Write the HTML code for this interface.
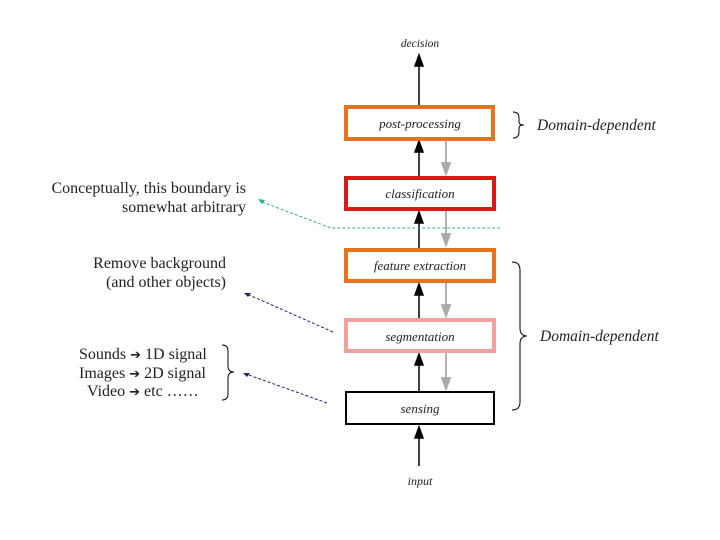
<!DOCTYPE html>
<html><head><meta charset="utf-8"><style>body{margin:0;background:#fff}svg{display:block}</style></head><body>
<svg width="720" height="540" viewBox="0 0 720 540" xmlns="http://www.w3.org/2000/svg" font-family="Liberation Serif, serif">
<text x="420" y="47" font-size="11.5" font-style="italic" text-anchor="middle" fill="#222">decision</text>
<g stroke="#000" stroke-width="1.5" fill="#000">
<line x1="419" y1="105" x2="419" y2="62"/><path d="M415,66 L419,55 L423,66Z"/>
<line x1="419" y1="176" x2="419" y2="148"/><path d="M415,152 L419,141 L423,152Z"/>
<line x1="419" y1="248" x2="419" y2="219"/><path d="M415,223 L419,212 L423,223Z"/>
<line x1="419" y1="318" x2="419" y2="291"/><path d="M415,295 L419,284 L423,295Z"/>
<line x1="419" y1="391" x2="419" y2="361"/><path d="M415,365 L419,354 L423,365Z"/>
<line x1="419" y1="466" x2="419" y2="434"/><path d="M415,438 L419,427 L423,438Z"/>
</g>
<g stroke="#aaa" stroke-width="1.8" fill="#aaa">
<line x1="446" y1="141" x2="446" y2="165"/><path d="M442,163 L446,174 L450,163Z"/>
<line x1="446" y1="211" x2="446" y2="236"/><path d="M442,234 L446,245 L450,234Z"/>
<line x1="446" y1="283" x2="446" y2="307"/><path d="M442,305 L446,316 L450,305Z"/>
<line x1="446" y1="353" x2="446" y2="380"/><path d="M442,378 L446,389 L450,378Z"/>
</g>
<rect x="346" y="107" width="147" height="32" fill="#fff" stroke="#e8731f" stroke-width="4"/>
<rect x="346" y="178" width="148" height="31" fill="#fff" stroke="#dd1616" stroke-width="4"/>
<rect x="346" y="250" width="148" height="31" fill="#fff" stroke="#e8731f" stroke-width="4"/>
<rect x="346" y="320" width="148" height="31" fill="#fff" stroke="#f2a0a0" stroke-width="4"/>
<rect x="346" y="392" width="148" height="32" fill="#fff" stroke="#000" stroke-width="2"/>
<g font-size="13" font-style="italic" text-anchor="middle" fill="#222">
<text x="420" y="128">post-processing</text>
<text x="420" y="198">classification</text>
<text x="420" y="270">feature extraction</text>
<text x="420" y="341">segmentation</text>
<text x="420" y="413">sensing</text>
</g>
<text x="420" y="485" font-size="12" font-style="italic" text-anchor="middle" fill="#222">input</text>
<path d="M262,202 L331,228 L500,228" fill="none" stroke="#3aa890" stroke-width="1" stroke-dasharray="3,2"/>
<path d="M258,199 L265,200 L262,204Z" fill="#3aa890"/>
<line x1="333" y1="332" x2="247" y2="294" stroke="#22226e" stroke-width="1" stroke-dasharray="3,2"/>
<path d="M244,293 L251,293 L248,297Z" fill="#22226e"/>
<line x1="327" y1="403" x2="246" y2="374" stroke="#22226e" stroke-width="1" stroke-dasharray="3,2"/>
<path d="M243,373 L250,373 L247,377Z" fill="#22226e"/>
<path d="M513,112 Q519,112 519,118 L519,122 Q519,125 524,125 Q519,125 519,128 L519,132 Q519,138 513,138" fill="none" stroke="#000" stroke-width="1"/>
<text x="537" y="130" font-size="15.5" font-style="italic" fill="#222">Domain-dependent</text>
<path d="M512,262 Q520,262 520,270 L520,328 Q520,336 527,336 Q520,336 520,344 L520,402 Q520,410 512,410" fill="none" stroke="#000" stroke-width="1"/>
<text x="540" y="341" font-size="15.5" font-style="italic" fill="#222">Domain-dependent</text>
<path d="M222,345 Q228,345 228,351 L228,366 Q228,372 234,372 Q228,372 228,378 L228,394 Q228,400 222,400" fill="none" stroke="#000" stroke-width="1"/>
<g font-size="16" fill="#222" text-anchor="end">
<text x="246" y="193">Conceptually, this boundary is</text>
<text x="246" y="212">somewhat arbitrary</text>
<text x="226" y="268">Remove background</text>
<text x="226" y="287">(and other objects)</text>
</g>
<g font-size="16" fill="#222">
<text x="79" y="359">Sounds <tspan font-family="DejaVu Sans" font-size="13">➔</tspan> 1D signal</text>
<text x="79" y="378">Images <tspan font-family="DejaVu Sans" font-size="13">➔</tspan> 2D signal</text>
<text x="87" y="396">Video <tspan font-family="DejaVu Sans" font-size="13">➔</tspan> etc   ……</text>
</g>
</svg>
</body></html>
